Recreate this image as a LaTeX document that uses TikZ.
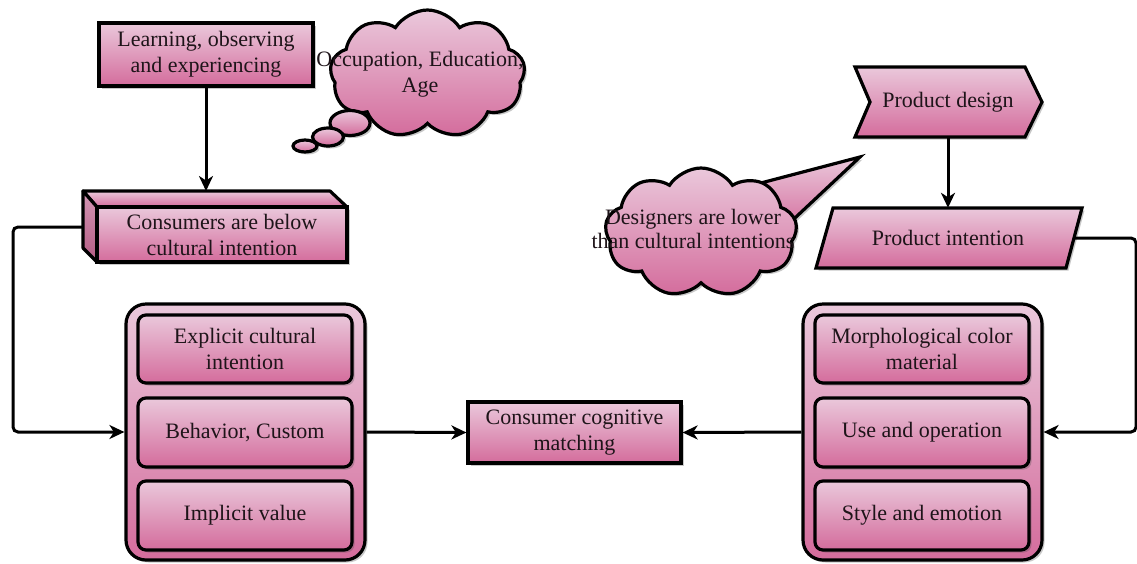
\documentclass[tikz,border=0pt]{standalone}
\usepackage{fontspec}
\setmainfont{Liberation Serif}
\usetikzlibrary{shapes.symbols,shapes.geometric,shadows,arrows.meta}
\definecolor{pktop}{RGB}{234,200,219}
\definecolor{pkbot}{RGB}{212,108,156}
\definecolor{sidetop}{RGB}{212,150,180}
\definecolor{sidebot}{RGB}{180,92,132}
\definecolor{txt}{RGB}{30,20,25}
\begin{document}
\begin{tikzpicture}[x=1pt,y=-1pt,
  pinkfill/.style={top color=pktop,bottom color=pkbot},
  shp/.style={pinkfill,draw=black,line width=3.2pt,
    drop shadow={shadow xshift=2.5pt,shadow yshift=-2.5pt,opacity=0.3,fill=black!70}},
  lbl/.style={font=\fontsize{22}{26}\selectfont,text=txt,align=center},
  boxnode/.style={shp,rectangle,lbl,inner sep=0pt},
  innerbox/.style={boxnode,rounded corners=8pt,minimum width=214pt},
  container/.style={shp,rectangle,rounded corners=20pt,minimum width=239pt,minimum height=256pt},
  conn/.style={line width=3pt,-{Stealth[length=15pt,width=14pt,inset=4.5pt]},rounded corners=5pt},
  ghost/.style={rectangle,inner sep=0pt,lbl}
]
\useasboundingbox (0,0) rectangle (1137,563);
\fill[white] (0,0) rectangle (1137,563);

% ---- Learning box
\node[boxnode,minimum width=214pt,minimum height=63pt] (learn) at (206,54.5)
  {Learning, observing\\and experiencing};

% ---- thought cloud (left)
\node[shp,cloud,cloud puffs=9,cloud puff arc=115,cloud ignores aspect,
  minimum width=195pt,minimum height=128pt,inner sep=0pt] (cloudA) at (427.5,74) {};
\node[shp,ellipse,minimum width=40pt,minimum height=25pt,inner sep=0pt] (bubA) at (350,123) {};
\node[shp,ellipse,minimum width=31pt,minimum height=18pt,inner sep=0pt] (bubB) at (328,137) {};
\node[shp,ellipse,minimum width=24pt,minimum height=12pt,inner sep=0pt] (bubC) at (305,146) {};
\node[lbl] (cloudAtxt) at (420,74.5) {Occupation, Education,\\Age};

% ---- 3D box
\path[shp,line join=round] (83,191) -- (330,191) -- (347,207) -- (97,207) -- cycle;
\path[shp,line join=round,top color=sidetop,bottom color=sidebot]
  (83,191) -- (97,207) -- (97,262) -- (83,248) -- cycle;
\node[boxnode,minimum width=250pt,minimum height=55pt] (cons) at (222,234.5)
  {Consumers are below\\cultural intention};
\coordinate (constop) at (206,191);
\coordinate (consleft) at (83,227);

% ---- Left container
\node[container] (lc) at (245.5,432) {};
\node[innerbox,minimum height=68pt] (e1) at (245,349) {Explicit cultural\\intention};
\node[innerbox,minimum height=69pt] (e2) at (245,432.5) {Behavior, Custom};
\node[innerbox,minimum height=69pt] (e3) at (245,515.5) {Implicit value};

% ---- Consumer cognitive matching
\node[boxnode,minimum width=213pt,minimum height=61pt] (cm) at (574.5,432.5)
  {Consumer cognitive\\matching};

% ---- Right container
\node[container] (rc) at (922.5,432) {};
\node[innerbox,minimum height=68pt] (m1) at (922,349) {Morphological color\\material};
\node[innerbox,minimum height=69pt] (m2) at (922,432.5) {Use and operation};
\node[innerbox,minimum height=69pt] (m3) at (922,515.5) {Style and emotion};

% ---- Product design (chevron)
\path[shp] (855,67) -- (1025,67) -- (1042,102) -- (1025,137) -- (855,137) -- (870,102) -- cycle;
\node[ghost,minimum width=170pt,minimum height=70pt] (pd) at (948,102) {Product design};

% ---- Product intention (parallelogram)
\path[shp] (833,208) -- (1082,208) -- (1066,268) -- (816,268) -- cycle;
\node[ghost,minimum width=233pt,minimum height=60pt] (pi) at (948,238) {Product intention};
\coordinate (piright) at (1074,238);

% ---- Designer cloud with callout
\path[shp] (757,184) -- (860,157) -- (780,232) -- cycle;
\node[shp,cloud,cloud puffs=9,cloud puff arc=115,cloud ignores aspect,
  minimum width=192pt,minimum height=129pt,inner sep=0pt] (cloudB) at (701,232.5) {};
\node[lbl,font=\fontsize{22}{24}\selectfont] (cloudBtxt) at (693,229) {Designers are lower\\than cultural intentions};

% ---- connectors
\draw[conn] (learn.south) -- (constop);
\draw[conn] (consleft) -- (13,227) -- (13,432) -- (lc.west);
\draw[conn] (lc.east) -- (cm.west);
\draw[conn] (rc.west) -- (cm.east);
\draw[conn] (pd.south) -- (pi.north);
\draw[conn] (piright) -- (1136,238) -- (1136,432) -- (rc.east);
\end{tikzpicture}
\end{document}
